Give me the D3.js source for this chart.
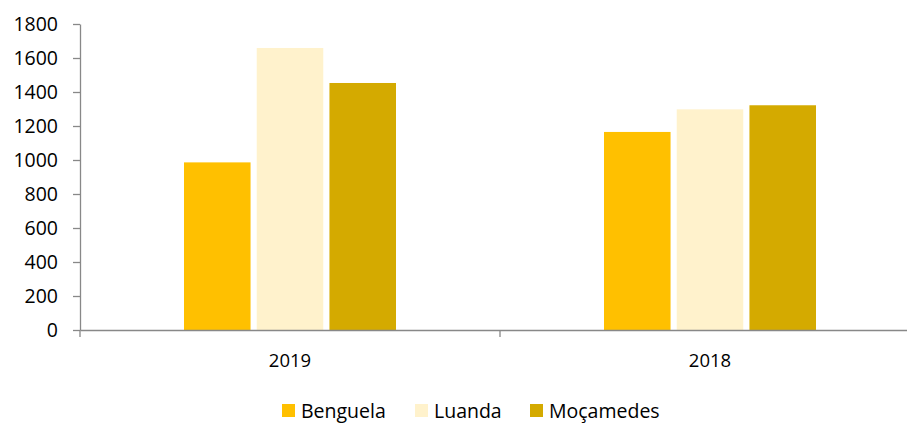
<!DOCTYPE html>
<html>
<head>
<meta charset="utf-8">
<script src="https://cdn.jsdelivr.net/npm/d3@7"></script>
<style>
  body { margin: 0; background: #fff; }
  svg { display: block; }
  svg text { font-family: "Open Sans", "Noto Sans", sans-serif; }
</style>
</head>
<body>
<div id="chart"></div>
<script>
// データ
const years = ['2019', '2018'];
const cities = ['Benguela', 'Luanda', 'Moçamedes'];
const benguela = [986, 1165];
const luanda = [1659, 1298];
const mocamedes = [1453, 1322];
const yTicks = [0, 200, 400, 600, 800, 1000, 1200, 1400, 1600, 1800];
const colors = ['#FFC000', '#FFF2CC', '#D4AA00'];

const seriesValues = [benguela, luanda, mocamedes];

const W = 907, H = 424;
const margin = { top: 24, left: 80, bottom: 94 };
const plotRight = 920;

const svg = d3.select('#chart').append('svg')
    .attr('width', W)
    .attr('height', H);

// スケール
const x = d3.scaleBand()
    .domain(years)
    .range([margin.left, plotRight]);

const y = d3.scaleLinear()
    .domain([0, 1800])
    .range([H - margin.bottom, margin.top]);

const inner = d3.scaleBand()
    .domain(cities)
    .range([104, 316])
    .paddingInner(0.085);

const color = d3.scaleOrdinal().domain(cities).range(colors);

// 棒
years.forEach((yr, i) => {
    cities.forEach((c, j) => {
        const v = seriesValues[j][i];
        svg.append('rect')
            .attr('x', x(yr) + inner(c))
            .attr('y', y(v))
            .attr('width', inner.bandwidth())
            .attr('height', y(0) - y(v))
            .attr('fill', color(c));
    });
});

// Y軸
const yAxis = svg.append('g')
    .attr('transform', `translate(${margin.left},0)`)
    .call(d3.axisLeft(y).tickValues(yTicks).tickFormat(d3.format('d'))
        .tickSize(7).tickPadding(15).tickSizeOuter(0))
    .attr('font-family', null);
yAxis.select('.domain').attr('stroke', '#888').attr('stroke-width', 1.3);
yAxis.selectAll('line').attr('stroke', '#888').attr('stroke-width', 1.3);
yAxis.selectAll('text').style('font-size', '19.5px').attr('fill', '#000');

// X軸
const xAxis = svg.append('g')
    .attr('transform', `translate(0,${y(0)})`)
    .call(d3.axisBottom(x).tickSize(0).tickPadding(24))
    .attr('font-family', null);
xAxis.select('.domain').attr('stroke', '#888').attr('stroke-width', 1.3);
xAxis.selectAll('text').style('font-size', '18.5px').attr('fill', '#000');

// カテゴリ境界の目盛り
const bounds = [x.range()[0], x(years[1]), x.range()[1]];
svg.append('g').selectAll('line')
    .data(bounds)
    .enter()
    .append('line')
    .attr('x1', d => d)
    .attr('x2', d => d)
    .attr('y1', y(0))
    .attr('y2', y(0) + 7)
    .attr('stroke', '#888')
    .attr('stroke-width', 1.3);

// 凡例
const legendX = [282, 415, 530];
const legend = svg.append('g');
cities.forEach((c, i) => {
    legend.append('g')
        .attr('transform', `translate(${legendX[i]}, 404)`)
        .call(g => g.append('rect')
            .attr('width', 13)
            .attr('height', 13)
            .attr('fill', color(c)))
        .call(g => g.append('text')
            .attr('x', 19)
            .attr('y', 13.5)
            .text(c)
            .style('font-size', '19.5px')
            .attr('fill', '#000'));
});
</script>
</body>
</html>
